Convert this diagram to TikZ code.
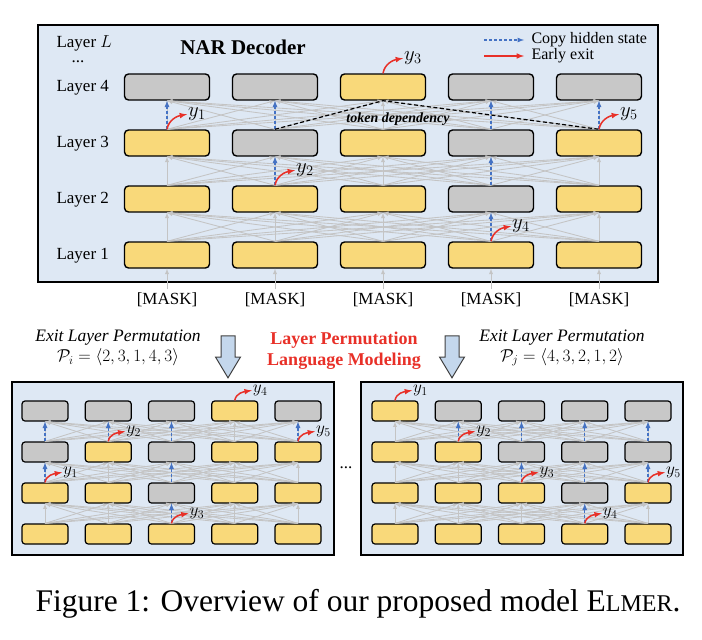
\documentclass[tikz,border=0pt]{standalone}
\usepackage{amsmath,amssymb}
\usepackage{fontspec}
\setmainfont{Liberation Serif}
\usepackage{tikz}
\usetikzlibrary{arrows, shapes.arrows, positioning}
\definecolor{panelblue}{RGB}{222,232,244}
\definecolor{tokyellow}{RGB}{249,217,122}
\definecolor{tokgray}{RGB}{200,200,200}
\definecolor{linkgray}{RGB}{196,196,196}
\definecolor{copyblue}{RGB}{68,114,196}
\definecolor{exitred}{RGB}{232,48,40}
\definecolor{arrowblue}{RGB}{196,215,236}
\tikzset{
    tokbox/.style={
        rectangle,
        draw,
        line width=1.4pt,
        rounded corners=4pt,
        inner sep=0pt
    },
    bigY/.style={
        tokbox,
        fill=tokyellow,
        minimum width=85pt,
        minimum height=26pt
    },
    bigG/.style={
        bigY,
        fill=tokgray
    },
    smallY/.style={
        tokbox,
        fill=tokyellow,
        line width=1.2pt,
        rounded corners=3pt,
        minimum width=46pt,
        minimum height=20pt
    },
    smallG/.style={
        smallY,
        fill=tokgray
    },
    panel/.style={
        draw,
        line width=2pt,
        fill=panelblue
    },
    linkarrow/.style={
        draw=linkgray,
        line width=0.85pt,
        -latex
    },
    copyarrow/.style={
        draw=copyblue,
        line width=1.2pt,
        dash pattern=on 3pt off 2pt,
        -latex
    },
    exitarrow/.style={
        draw=exitred,
        line width=1.5pt,
        -latex
    },
    depline/.style={
        draw=black,
        line width=1.2pt,
        dash pattern=on 4pt off 2.5pt
    },
    outlabel/.style={
        anchor=west,
        inner sep=1pt
    },
    downarrow/.style={
        single arrow,
        draw=black!75,
        line width=1pt,
        fill=arrowblue,
        shape border rotate=270,
        minimum height=42pt,
        inner sep=6.5pt,
        single arrow head extend=5.5pt,
        single arrow tip angle=62
    }
}

\begin{document}
\begin{tikzpicture}[x=1pt, y=-1pt]
\useasboundingbox (0,0) rectangle (702,640);

% top panel: NAR decoder
\draw[panel] (38,25) rectangle (658,282);
\foreach \l/\pat in {1/{Y,Y,Y,Y,Y}, 2/{Y,Y,Y,G,Y}, 3/{Y,G,Y,G,Y}, 4/{G,G,Y,G,G}}
    \foreach \s [count=\c] in \pat
        \node[big\s] (t-\l-\c) at (59+108*\c, 311-56*\l) {};
\foreach \l [evaluate=\l as \u using int(\l+1)] in {1,2,3}
    \foreach \i in {1,...,5}
        \foreach \j in {1,...,5}
            \draw[linkarrow] (t-\l-\i.north) -- (t-\u-\j.south);
\foreach \c in {1,...,5} {
    \node[font=\fontsize{17}{20}\selectfont] (m-\c) at (59+108*\c, 300) {[MASK]};
    \draw[linkarrow] (m-\c.north) -- (t-1-\c.south);
}
\foreach \l/\c [evaluate=\l as \u using int(\l+1)] in {3/1, 2/2, 3/2, 1/4, 2/4, 3/4, 3/5}
    \draw[copyarrow] (t-\l-\c.north) -- (t-\u-\c.south);
\foreach \l/\c in {3/1, 2/2, 4/3, 1/4, 3/5} {
    \node[outlabel, font=\fontsize{22}{24}\selectfont] (ty-\c) at ([shift={(20,-15)}]t-\l-\c.north) {$y_{\c}$};
    \draw[exitarrow] (t-\l-\c.north) to[out=80, in=190] (ty-\c.west);
}
\draw[depline] (t-3-2.north) -- (t-4-3.south) -- (t-3-5.north);
\node[font=\fontsize{14}{16}\selectfont\bfseries\itshape] (dep) at (398,119) {token dependency};

% layer names and title
\begin{scope}[font=\fontsize{17}{20}\selectfont]
\node[anchor=west] (ll) at (53,43) {Layer $L$};
\node (dots) at (78,62) {...};
\foreach \l in {1,...,4}
    \node[anchor=west] (lab-\l) at (53, 312-56*\l) {Layer \l};
\end{scope}
\node[font=\fontsize{21}{24}\selectfont\bfseries] (title) at (243,47) {NAR Decoder};

% legend
\node[anchor=west, font=\fontsize{16}{18}\selectfont] (lg-copy) at (528,40) {Copy hidden state};
\node[anchor=west, font=\fontsize{16}{18}\selectfont] (lg-exit) at (528,56) {Early exit};
\draw[copyarrow] ([xshift=-44pt]lg-copy.west) -- ([xshift=-4pt]lg-copy.west);
\draw[exitarrow] ([xshift=-44pt]lg-exit.west) -- ([xshift=-4pt]lg-exit.west);

% permutations
\node[downarrow] (d-i) at (228,351) {};
\node[downarrow] (d-j) at (452,351) {};
\node[align=center, font=\fontsize{17.5}{20}\selectfont\itshape] (perm-i) at (118,348)
    {Exit Layer Permutation\\ $\mathcal{P}_i = \langle 2,3,1,4,3\rangle$};
\node[align=center, font=\fontsize{17.5}{20}\selectfont\itshape] (perm-j) at (562,348)
    {Exit Layer Permutation\\ $\mathcal{P}_j = \langle 4,3,2,1,2\rangle$};
\node[align=center, text=exitred, font=\fontsize{18}{21}\selectfont\bfseries] (lplm) at (344,351)
    {Layer Permutation\\Language Modeling};

% left panel
\draw[panel] (12,382) rectangle (334,555);
\foreach \l/\pat in {1/{Y,Y,Y,Y,Y}, 2/{Y,Y,G,Y,Y}, 3/{G,Y,G,Y,Y}, 4/{G,G,G,Y,G}}
    \foreach \s [count=\c] in \pat
        \node[small\s] (a-\l-\c) at (-18.25+63.25*\c, 575-41*\l) {};
\foreach \l [evaluate=\l as \u using int(\l+1)] in {1,2,3}
    \foreach \i in {1,...,5}
        \foreach \j in {1,...,5}
            \draw[linkarrow] (a-\l-\i.north) -- (a-\u-\j.south);
\foreach \l/\c [evaluate=\l as \u using int(\l+1)] in {2/1, 3/1, 3/2, 1/3, 2/3, 3/3, 3/5}
    \draw[copyarrow] (a-\l-\c.north) -- (a-\u-\c.south);
\foreach \l/\c in {2/1, 3/2, 1/3, 4/4, 3/5} {
    \node[outlabel, font=\fontsize{18}{20}\selectfont] (ay-\c) at ([shift={(17,-10)}]a-\l-\c.north) {$y_{\c}$};
    \draw[exitarrow] (a-\l-\c.north) to[out=80, in=190] (ay-\c.west);
}

\node[font=\fontsize{17}{20}\selectfont] (more) at (346,468) {...};

% right panel
\draw[panel] (361,382) rectangle (683,555);
\foreach \l/\pat in {1/{Y,Y,Y,Y,Y}, 2/{Y,Y,Y,G,Y}, 3/{Y,Y,G,G,G}, 4/{Y,G,G,G,G}}
    \foreach \s [count=\c] in \pat
        \node[small\s] (b-\l-\c) at (331.75+63.25*\c, 575-41*\l) {};
\foreach \l [evaluate=\l as \u using int(\l+1)] in {1,2,3}
    \foreach \i in {1,...,5}
        \foreach \j in {1,...,5}
            \draw[linkarrow] (b-\l-\i.north) -- (b-\u-\j.south);
\foreach \l/\c [evaluate=\l as \u using int(\l+1)] in {3/2, 2/3, 3/3, 1/4, 2/4, 3/4, 2/5, 3/5}
    \draw[copyarrow] (b-\l-\c.north) -- (b-\u-\c.south);
\foreach \l/\c in {4/1, 3/2, 2/3, 1/4, 2/5} {
    \node[outlabel, font=\fontsize{18}{20}\selectfont] (by-\c) at ([shift={(17,-10)}]b-\l-\c.north) {$y_{\c}$};
    \draw[exitarrow] (b-\l-\c.north) to[out=80, in=190] (by-\c.west);
}

% caption
\node[font=\fontsize{31.5}{36}\selectfont] (caption) at (358,604)
    {Figure 1: Overview of our proposed model E{\fontsize{24}{28}\selectfont LMER}.};
\end{tikzpicture}
\end{document}
